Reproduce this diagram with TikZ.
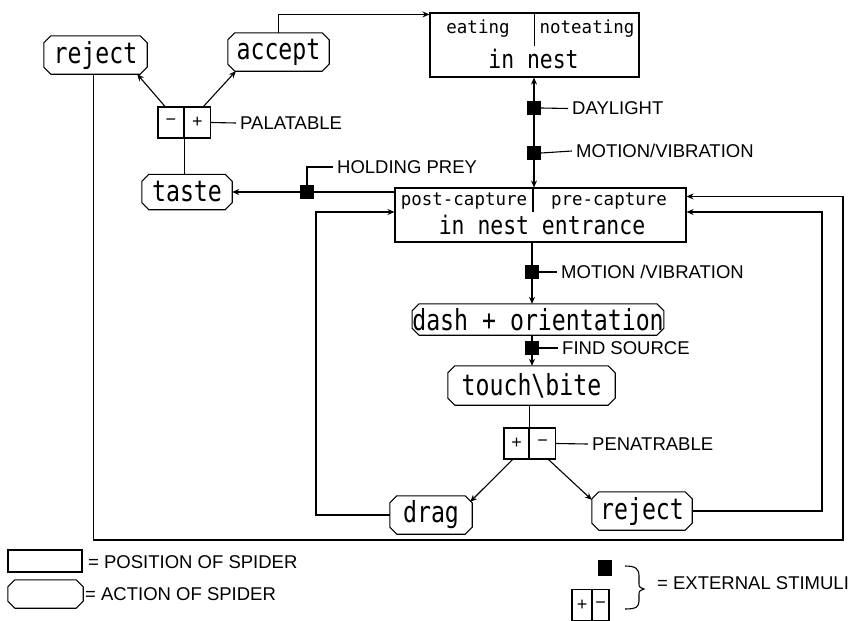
\documentclass[tikz,border=0pt]{standalone}
\usepackage{fontspec}
\usetikzlibrary{arrows.meta}
\setmainfont{Liberation Sans}
\newfontfamily\actfont[FakeStretch=0.8]{DejaVu Sans Mono}
\newfontfamily\posfont[FakeStretch=0.84]{DejaVu Sans Mono}
\newfontfamily\smlfont[FakeStretch=0.97]{DejaVu Sans Mono}
\newcommand\octa[1]{%
  \draw[ln] ([xshift=7pt]#1.north west) -- ([xshift=-7pt]#1.north east) -- ([yshift=-7pt]#1.north east) -- ([yshift=7pt]#1.south east) -- ([xshift=-7pt]#1.south east) -- ([xshift=7pt]#1.south west) -- ([yshift=7pt]#1.south west) -- ([yshift=-7pt]#1.north west) -- cycle;}
\tikzset{
  ln/.style={line width=1.1pt},
  act/.style={rectangle, inner sep=0pt, font=\actfont\fontsize{29}{29}\selectfont},
  posbox/.style={draw, ln, rectangle, inner sep=0pt},
  postxt/.style={anchor=base, inner sep=0pt, font=\posfont\fontsize{25.5}{25.5}\selectfont},
  smltxt/.style={anchor=base, inner sep=0pt, font=\smlfont\fontsize{18}{18}\selectfont},
  sq/.style={fill=black, minimum size=14pt, inner sep=0pt},
  cell/.style={draw, ln, minimum width=26pt, minimum height=31pt, inner sep=0pt, font=\fontsize{18}{18}\selectfont},
  lab/.style={anchor=west, inner xsep=4pt, inner ysep=0pt, font=\fontsize{18.5}{18.5}\selectfont},
  arr/.style={-{Stealth[length=7pt,width=6pt]}},
  arrb/.style={{Stealth[length=7pt,width=6pt]}-{Stealth[length=7pt,width=6pt]}}
}
\begin{document}
\begin{tikzpicture}[x=1pt,y=-1pt]
\useasboundingbox (0,0) rectangle (862,621);
% position boxes
\node[posbox, minimum width=209pt, minimum height=64pt] (innest) at (534.5,45) {};
\draw[ln] (innest.north) -- ++(0,-34pt);
\node[smltxt] (eat) at (478,33) {eating};
\node[smltxt] (noteat) at (587,33) {noteating};
\node[postxt] (innestt) at (533.5,68) {in nest};
\node[posbox, minimum width=291pt, minimum height=54pt] (entr) at (540.5,215) {};
\draw[ln] ([xshift=-7.5pt]entr.north) -- ++(0,-25pt);
\node[smltxt] (post) at (464,205) {post-capture};
\node[smltxt] (pre) at (609,205) {pre-capture};
\node[postxt] (entrt) at (542,234) {in nest entrance};
% action nodes
\node[act, minimum width=103pt, minimum height=38pt] (rejectA) at (95.5,55) {reject};
\node[act, minimum width=101pt, minimum height=38pt] (accept) at (278.5,52) {accept};
\node[act, minimum width=90pt, minimum height=35pt] (taste) at (187,192) {taste};
\node[act, minimum width=250pt, minimum height=31pt] (dash) at (538,319.5) {dash + orientation};
\node[act, minimum width=167pt, minimum height=39pt] (touch) at (531.5,385.5) {touch\textbackslash bite};
\node[act, minimum width=82pt, minimum height=38pt] (drag) at (431,515) {drag};
\node[act, minimum width=100pt, minimum height=38pt] (rejectB) at (642,511) {reject};
\octa{rejectA}\octa{accept}\octa{taste}\octa{dash}\octa{touch}\octa{drag}\octa{rejectB}
% decision cells
\node[cell] (palm) at (171,122.5) {−};
\node[cell] (palp) at (197.5,122.5) {+};
\node[cell, minimum width=25pt] (penp) at (516.5,443.5) {+};
\node[cell] (penm) at (542.5,443.5) {−};
% stimuli squares
\node[sq] (sqD) at (534,108) {};
\node[sq] (sqM) at (534,153) {};
\node[sq] (sqH) at (307,192) {};
\node[sq] (sqM2) at (532,272) {};
\node[sq] (sqF) at (532,348) {};
% labels
\node[lab] (lPal) at (236,123) {PALATABLE};
\node[lab] (lD) at (568,108.5) {DAYLIGHT};
\node[lab] (lM) at (572,151) {MOTION/VIBRATION};
\node[lab] (lH) at (333,167) {HOLDING PREY};
\node[lab] (lM2) at (557,272) {MOTION /VIBRATION};
\node[lab] (lF) at (558,348) {FIND SOURCE};
\node[lab] (lP) at (588,444) {PENATRABLE};
% connectors
\draw[ln,arr] (accept.north) |- ([yshift=-2pt]innest.north west);
\draw[ln,arr] ([xshift=-6pt]palm.north) -- ([xshift=-10pt]rejectA.south east);
\draw[ln,arr] ([xshift=6pt]palp.north) -- ([xshift=8pt]accept.south west);
\draw[ln] (palm.south east) -- (palm.south east |- taste.north);
\draw[ln] (palp.east) -- (lPal.west);
\coordinate (o1) at (843,540);
\draw[ln,arr] ([xshift=-2pt]rejectA.south) |- (o1) |- ([yshift=-9pt]entr.north east);
\coordinate (o2) at (822,212);
\draw[ln,arr] (rejectB.east) -| (o2) -- (o2 -| entr.east);
\coordinate (o3) at (316,212);
\draw[ln,arr] (drag.west) -| (o3) -- (o3 -| entr.west);
\draw[ln,arr] (entr.west |- taste.east) -- (taste.east);
\draw[ln] (sqH.north) |- (lH.west);
\draw[ln,arrb] (sqD |- innest.south) -- (sqD |- entr.north);
\draw[ln] (sqD.east) -- (lD.west);
\draw[ln] (sqM.east) -- (lM.west);
\draw[ln,arr] (entr.south -| sqM2) -- (dash.north -| sqM2);
\draw[ln] (sqM2.east) -- (lM2.west);
\draw[ln,arr] (dash.south -| sqF) -- (touch.north -| sqF);
\draw[ln] (sqF.east) -- (lF.west);
\draw[ln] (penp.north east |- touch.south) -- (penp.north east);
\draw[ln] (penm.east) -- (lP.west);
\draw[ln,arr] ([xshift=-4pt]penp.south) -- ([xshift=-2pt,yshift=-6pt]drag.north east);
\draw[ln,arr] ([xshift=6pt]penm.south) -- ([yshift=-8pt]rejectB.north west);
% legend
\node[posbox, minimum width=74pt, minimum height=22pt] (legpos) at (45,561) {};
\node[lab, inner xsep=0pt] (legpost) at (88,562) {= POSITION OF SPIDER};
\node[act, minimum width=75pt, minimum height=28pt] (legact) at (45.5,594) {};
\octa{legact}
\node[lab, inner xsep=0pt] (legactt) at (85,594) {= ACTION OF SPIDER};
\node[sq, minimum width=14pt, minimum height=16pt] (legsq) at (605,568) {};
\node[cell, minimum width=20pt, minimum height=31pt] (legp) at (582,605) {+};
\node[cell, minimum width=17pt, minimum height=31pt] (legm) at (600.5,605) {−};
\draw[ln] (625,566) .. controls (636,566) and (639,569) .. (639,576) -- (639,583) .. controls (639,587) .. (644,589) .. controls (639,591) .. (639,595) -- (639,601) .. controls (639,607) and (636,609) .. (625,609);
\node[lab, inner xsep=0pt] (legst) at (657,583) {= EXTERNAL STIMULI};
\end{tikzpicture}
\end{document}
